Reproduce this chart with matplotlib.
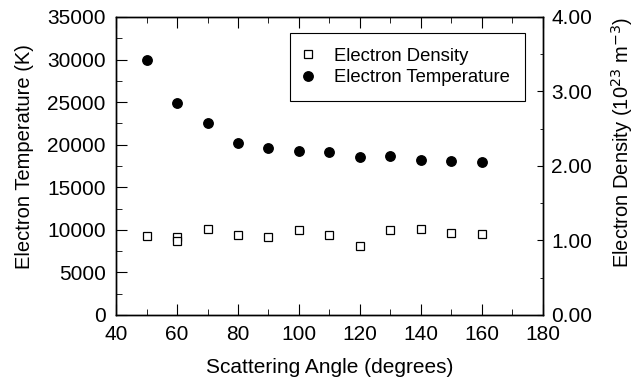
import matplotlib
matplotlib.use("Agg")
import matplotlib.pyplot as plt
from matplotlib.ticker import MultipleLocator

plt.rcParams['font.family'] = ['Liberation Sans', 'DejaVu Sans']

# data
angle_temp = [50, 60, 70, 80, 90, 100, 110, 120, 130, 140, 150, 160]
temperature = [30000, 24900, 22600, 20200, 19600, 19250, 19100, 18600, 18700, 18200, 18050, 18000]

angle_dens = [50, 60, 60, 70, 80, 90, 100, 110, 120, 130, 140, 150, 160]
density = [1.06, 1.04, 0.99, 1.15, 1.075, 1.045, 1.14, 1.075, 0.925, 1.145, 1.155, 1.10, 1.09]

fig = plt.figure(figsize=(6.41, 3.86), dpi=100)
ax = fig.add_axes([0.181, 0.184, 0.666, 0.772])
ax2 = ax.twinx()

h1, = ax2.plot(angle_dens, density, 's', ms=6, mfc='white', mec='black', mew=0.9,
               label='Electron Density')
h2, = ax.plot(angle_temp, temperature, 'o', ms=6.8, color='black',
              label='Electron Temperature')

ax.set_xlim(40, 180)
ax.set_ylim(0, 35000)
ax2.set_ylim(0, 4)

ax.xaxis.set_major_locator(MultipleLocator(20))
ax.xaxis.set_minor_locator(MultipleLocator(10))
ax.yaxis.set_major_locator(MultipleLocator(5000))
ax.yaxis.set_minor_locator(MultipleLocator(2500))
ax2.yaxis.set_major_locator(MultipleLocator(1))
ax2.yaxis.set_minor_locator(MultipleLocator(0.5))
ax2.yaxis.set_major_formatter(plt.FormatStrFormatter('%.2f'))

ax.tick_params(axis='x', which='both', direction='in', top=True, labelsize=15, pad=7)
ax.tick_params(axis='y', which='both', direction='in', labelsize=15, pad=7.5)
ax2.tick_params(axis='y', which='both', direction='in', labelsize=15, pad=6)
ax.tick_params(which='major', length=8)
ax.tick_params(which='minor', length=4)
ax2.tick_params(which='major', length=4)
ax2.tick_params(which='minor', length=2.5)
for a in (ax, ax2):
    for s in a.spines.values():
        s.set_linewidth(1.0)

ax.set_xlabel('Scattering Angle (degrees)', fontsize=15)
ax.set_ylabel('Electron Temperature (K)', fontsize=14.5)
ax2.set_ylabel(r'Electron Density (10$^{23}$ m$^{-3}$)', fontsize=14.5)
ax.xaxis.set_label_coords(0.5, -0.145)
ax.yaxis.set_label_coords(-0.192, 0.53)
ax2.yaxis.set_label_coords(1.155, 0.58)

leg = ax.legend([h1, h2], ['Electron Density', 'Electron Temperature'],
                loc='upper right', bbox_to_anchor=(0.958, 0.946), borderaxespad=0,
                fontsize=13.3, fancybox=False, edgecolor='black', framealpha=1,
                handlelength=0.4, handletextpad=1.2, borderpad=0.8, labelspacing=0.25)
leg.get_frame().set_linewidth(0.8)

fig.savefig('out.png', dpi=100)
